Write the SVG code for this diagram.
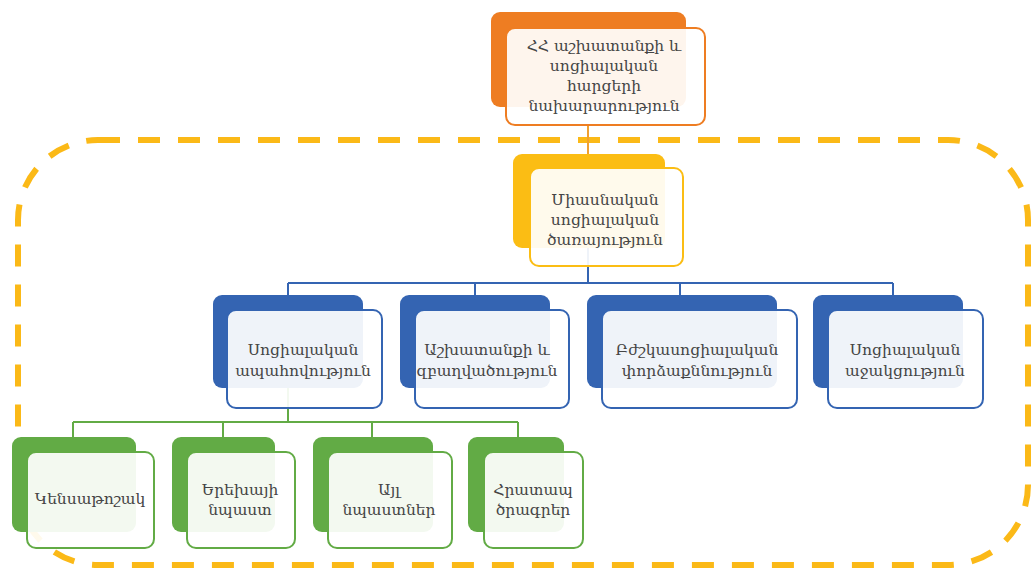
<svg xmlns="http://www.w3.org/2000/svg" width="1031" height="572" viewBox="0 0 1031 572">
<style>
text{font-family:"DejaVu Serif","Noto Serif","Noto Sans",serif;font-size:15.5px;fill:#454545;text-anchor:middle}
.fr{fill:#ffffff;fill-opacity:0.92;stroke-width:2}
.o .bk{fill:#ee7d22}.o .fr{stroke:#ee7d22}
.y .bk{fill:#fbbd14}.y .fr{stroke:#fbbd14}
.b .bk{fill:#3464b2}.b .fr{stroke:#3464b2}
.g .bk{fill:#62ab45}.g .fr{stroke:#62ab45}
.ln{fill:none;stroke-width:2}
</style>
<rect x="18" y="140" width="1010" height="425" rx="80" fill="none" stroke="#fbb917" stroke-width="6" stroke-dasharray="22,18"/>
<g id="connectors">
<path class="ln" stroke="#f0a030" d="M588 125V155"/>
<path class="ln" stroke="#3464b2" d="M588 248V283M288 283H893M288 283V296M475 283V296M680 283V296M893 283V296"/>
<path class="ln" stroke="#62ab45" d="M288 388V422M73 422H518M73 422V438M223 422V438M372 422V438M518 422V438"/>
</g>
<g id="n-ministry" class="o">
<rect class="bk" x="491" y="12" width="195" height="95" rx="9"/>
<rect class="fr" x="506" y="28" width="199" height="97" rx="9"/>
<text x="604" y="51">ՀՀ աշխատանքի և</text>
<text x="604" y="71">սոցիալական</text>
<text x="604" y="91">հարցերի</text>
<text x="604" y="111">նախարարություն</text>
</g>
<g id="n-unified" class="y">
<rect class="bk" x="513" y="154" width="152" height="94" rx="9"/>
<rect class="fr" x="530" y="168" width="153" height="98" rx="9"/>
<text x="605" y="205">Միասնական</text>
<text x="605" y="225">սոցիալական</text>
<text x="605" y="245">ծառայություն</text>
</g>
<g id="n-security" class="b">
<rect class="bk" x="213" y="295" width="150" height="93" rx="9"/>
<rect class="fr" x="227" y="310" width="155" height="98" rx="9"/>
<text x="303" y="355">Սոցիալական</text>
<text x="303" y="376">ապահովություն</text>
</g>
<g id="n-employment" class="b">
<rect class="bk" x="400" y="295" width="150" height="93" rx="9"/>
<rect class="fr" x="415" y="310" width="154" height="98" rx="9"/>
<text x="487" y="355">Աշխատանքի և</text>
<text x="487" y="376">զբաղվածություն</text>
</g>
<g id="n-medical" class="b">
<rect class="bk" x="587" y="295" width="190" height="93" rx="9"/>
<rect class="fr" x="602" y="310" width="195" height="98" rx="9"/>
<text x="697" y="355">Բժշկասոցիալական</text>
<text x="697" y="376">փորձաքննություն</text>
</g>
<g id="n-support" class="b">
<rect class="bk" x="813" y="295" width="150" height="93" rx="9"/>
<rect class="fr" x="828" y="310" width="155" height="98" rx="9"/>
<text x="905" y="355">Սոցիալական</text>
<text x="905" y="376">աջակցություն</text>
</g>
<g id="n-pension" class="g">
<rect class="bk" x="12" y="437" width="124" height="95" rx="9"/>
<rect class="fr" x="27" y="452" width="127" height="96" rx="9"/>
<text x="90" y="504">Կենսաթոշակ</text>
</g>
<g id="n-child" class="g">
<rect class="bk" x="172" y="437" width="103" height="95" rx="9"/>
<rect class="fr" x="187" y="452" width="108" height="96" rx="9"/>
<text x="240" y="495">Երեխայի</text>
<text x="240" y="515">նպաստ</text>
</g>
<g id="n-other" class="g">
<rect class="bk" x="313" y="437" width="120" height="95" rx="9"/>
<rect class="fr" x="328" y="452" width="124" height="96" rx="9"/>
<text x="389" y="495">Այլ</text>
<text x="389" y="515">նպաստներ</text>
</g>
<g id="n-urgent" class="g">
<rect class="bk" x="468" y="437" width="96" height="95" rx="9"/>
<rect class="fr" x="484" y="452" width="99" height="96" rx="9"/>
<text x="533" y="495">Հրատապ</text>
<text x="533" y="515">ծրագրեր</text>
</g>
</svg>
